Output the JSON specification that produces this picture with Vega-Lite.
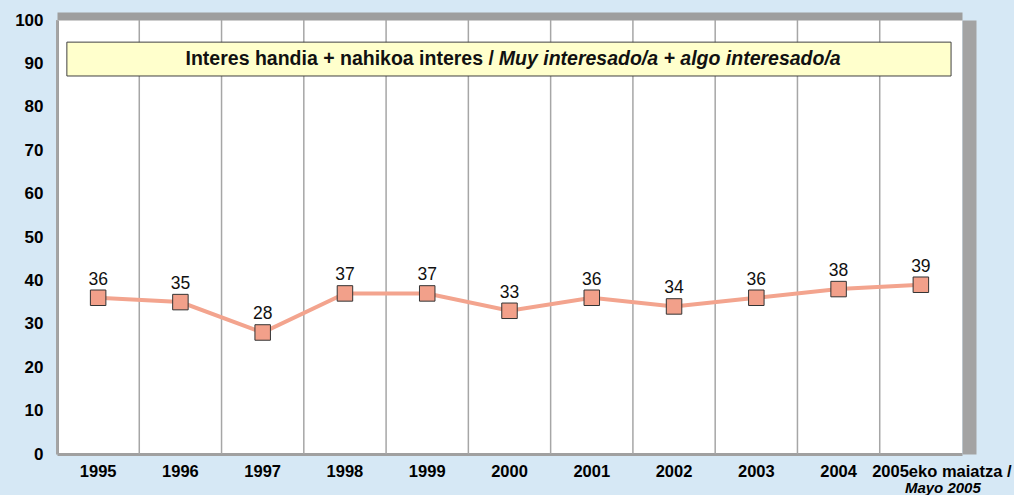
{
  "$schema": "https://vega.github.io/schema/vega-lite/v6.json",
  "width": 905,
  "height": 434,
  "autosize": "none",
  "padding": {"left": 57, "top": 20, "right": 52, "bottom": 41},
  "background": "#d6e8f5",
  "config": {"view": {"fill": "white", "stroke": null}, "font": "Liberation Sans"},
  "data": {
    "values": [
      {"year": "1995", "value": 36},
      {"year": "1996", "value": 35},
      {"year": "1997", "value": 28},
      {"year": "1998", "value": 37},
      {"year": "1999", "value": 37},
      {"year": "2000", "value": 33},
      {"year": "2001", "value": 36},
      {"year": "2002", "value": 34},
      {"year": "2003", "value": 36},
      {"year": "2004", "value": 38},
      {"year": "2005eko maiatza /", "value": 39}
    ]
  },
  "layer": [
    {
      "mark": {"type": "rule", "color": "#a6a6a6", "strokeWidth": 1.5},
      "encoding": {
        "x": {
          "field": "year", "type": "nominal", "sort": null, "bandPosition": 0,
          "scale": {"type": "band", "paddingInner": 0, "paddingOuter": 0},
          "axis": {"orient": "top", "labels": false, "ticks": false, "grid": false, "title": null,
                   "domainColor": "#9e9e9e", "domainWidth": 8, "offset": 4}
        }
      }
    },
    {
      "data": {"values": [{"bold": "Interes handia + nahikoa interes /", "italic": "Muy interesado/a + algo interesado/a"}]},
      "layer": [
        {
          "mark": {"type": "rect", "fill": "#ffffcc", "stroke": "#404040", "strokeWidth": 1},
          "encoding": {
            "x": {"datum": "1995", "type": "nominal", "bandPosition": 0.12, "axis": null},
            "x2": {"datum": "2005eko maiatza /", "bandPosition": 0.867},
            "y": {"datum": 94.9, "type": "quantitative", "axis": null},
            "y2": {"datum": 87.1}
          }
        },
        {
          "mark": {"type": "text", "align": "right", "baseline": "middle", "fontWeight": "bold", "fontSize": 19.5, "color": "#111"},
          "encoding": {
            "x": {"datum": "2000", "type": "nominal", "bandPosition": 0.31, "axis": null},
            "y": {"datum": 91, "type": "quantitative", "axis": null},
            "text": {"field": "bold"}
          }
        },
        {
          "mark": {"type": "text", "align": "left", "baseline": "middle", "fontWeight": "bold", "fontStyle": "italic", "fontSize": 19.5, "color": "#111"},
          "encoding": {
            "x": {"datum": "2000", "type": "nominal", "bandPosition": 0.37, "axis": null},
            "y": {"datum": 91, "type": "quantitative", "axis": null},
            "text": {"field": "italic"}
          }
        }
      ]
    },
    {
      "mark": {"type": "line", "color": "#f3a48e", "strokeWidth": 4},
      "encoding": {
        "x": {
          "field": "year", "type": "nominal", "sort": null, "bandPosition": 0.5,
          "axis": {"orient": "bottom", "title": null, "ticks": false, "grid": false, "labelAngle": 0,
                   "labelFontWeight": "bold", "labelFontSize": 16.5, "labelColor": "#000", "labelPadding": 9,
                   "labelOverlap": false, "labelBound": false,
                   "labelOffset": {"condition": {"test": "datum.value === '2005eko maiatza /'", "value": 21}, "value": 0},
                   "domainColor": "#a0a0a0", "domainWidth": 3}
        },
        "y": {
          "field": "value", "type": "quantitative",
          "scale": {"domain": [0, 100], "nice": false},
          "axis": {"orient": "left", "title": null, "ticks": false, "values": [0, 10, 20, 30, 40, 50, 60, 70, 80, 90, 100],
                   "labelFontWeight": "bold", "labelFontSize": 17, "labelColor": "#000", "labelPadding": 14,
                   "gridColor": "#a6a6a6", "gridWidth": 1.5, "domainColor": "#a0a0a0", "domainWidth": 3}
        }
      }
    },
    {
      "mark": {"type": "square", "size": 240, "fill": "#f2a08a", "stroke": "#333", "strokeWidth": 1, "opacity": 1},
      "encoding": {
        "x": {
          "field": "year", "type": "nominal", "sort": null, "bandPosition": 0.5,
          "axis": {"orient": "bottom", "title": null, "ticks": false, "grid": false, "domain": false, "labelAngle": 0,
                   "labelExpr": "datum.value === '2005eko maiatza /' ? 'Mayo 2005' : ''",
                   "labelFontWeight": "bold", "labelFontStyle": "italic", "labelFontSize": 15, "labelColor": "#000",
                   "labelPadding": 26, "labelOffset": 22, "labelOverlap": false, "labelBound": false}
        },
        "y": {
          "field": "value", "type": "quantitative",
          "axis": {"orient": "right", "title": null, "ticks": false, "labels": false, "grid": false,
                   "domainColor": "#a3a3a3", "domainWidth": 14, "offset": 7}
        }
      }
    },
    {
      "mark": {"type": "text", "fontSize": 17.5, "color": "#111", "baseline": "alphabetic", "dy": -13},
      "encoding": {
        "x": {"field": "year", "type": "nominal", "sort": null, "bandPosition": 0.5, "axis": null},
        "y": {"field": "value", "type": "quantitative", "axis": null},
        "text": {"field": "value"}
      }
    }
  ],
  "resolve": {"axis": {"x": "independent", "y": "independent"}}
}
